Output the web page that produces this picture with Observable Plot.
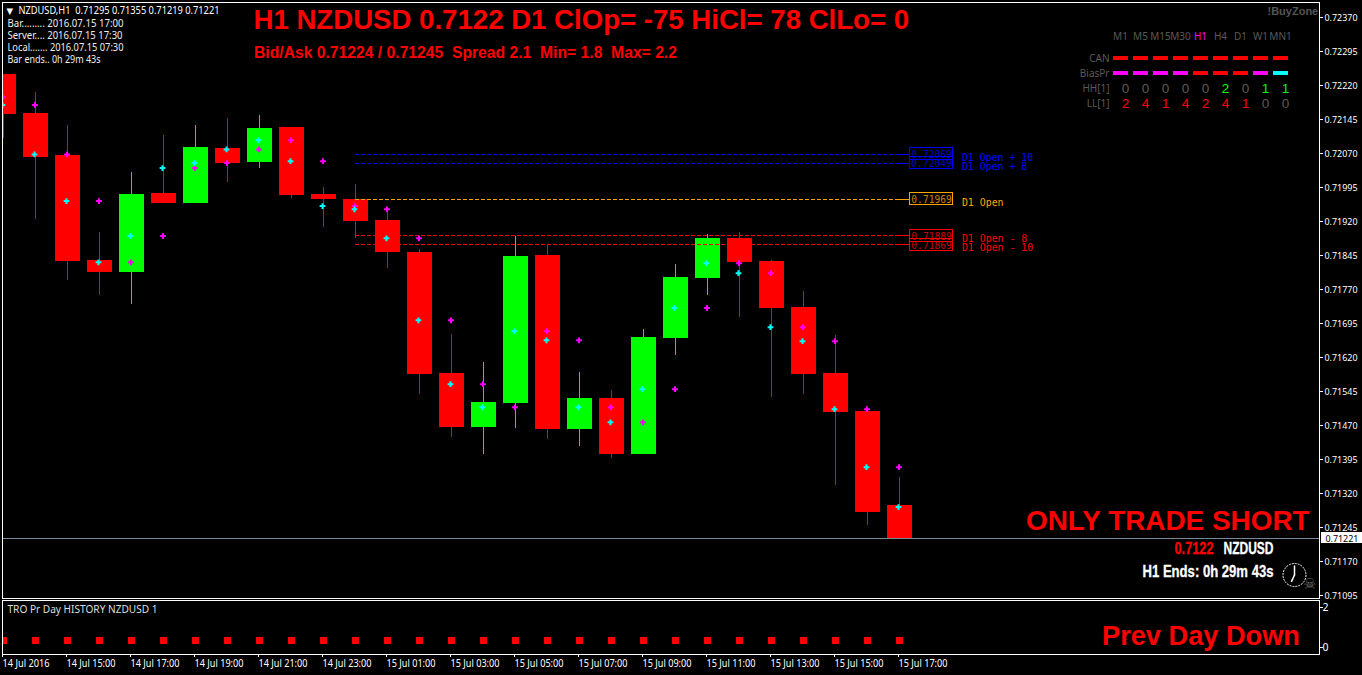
<!doctype html>
<html><head><meta charset="utf-8">
<script src="https://cdn.jsdelivr.net/npm/d3@7"></script>
<script src="https://cdn.jsdelivr.net/npm/@observablehq/plot@0.6"></script>
<style>
html,body{margin:0;padding:0;background:#000;overflow:hidden}
#chart{position:relative;width:1362px;height:675px;background:#000}
#chart svg{position:absolute;left:0;background:transparent;white-space:pre}
</style></head><body><div id="chart"></div>
<script>
// ---- data -------------------------------------------------------------
const opens  = [.72245,.72159,.72066,.71835,.71808,.71982,.71960,.72082,.72051,.72128,.71980,.71969,.71923,.71852,.71585,.71466,.71519,.71846,.71462,.71530,.71408,.71662,.71795,.71883,.71832,.71731,.71585,.71502,.71295];
const highs  = [.72245,.72205,.72132,.71896,.72029,.72110,.72132,.72148,.72154,.72128,.71996,.72002,.71947,.71859,.71671,.71610,.71888,.71870,.71587,.71548,.71682,.71826,.71892,.71896,.71835,.71766,.71669,.71502,.71355];
const lows   = [.72102,.71925,.71790,.71757,.71738,.71960,.71960,.72007,.72038,.71971,.71907,.71883,.71817,.71539,.71444,.71406,.71464,.71440,.71424,.71398,.71408,.71625,.71757,.71709,.71532,.71539,.71338,.71250,.71219];
const closes = [.72157,.72062,.71832,.71808,.71980,.71960,.72084,.72049,.72126,.71978,.71969,.71921,.71852,.71583,.71466,.71521,.71843,.71462,.71530,.71408,.71665,.71797,.71883,.71830,.71729,.71583,.71499,.71279,.71221];
const magentaPts = [.72194,.72177,.72068,.71965,.71830,.71888,.72038,.72049,.72079,.72099,.72053,.71954,.71947,.71883,.71702,.71561,.71510,.71678,.71658,.71510,.71477,.71550,.71729,.71828,.71806,.71687,.71656,.71506,.71378];
const cyanPts    = [.72177,.72068,.71965,.71830,.71888,.72038,.72049,.72079,.72099,.72053,.71954,.71947,.71883,.71702,.71561,.71510,.71678,.71658,.71510,.71477,.71550,.71729,.71828,.71806,.71687,.71656,.71506,.71378,.71290];
const histValue = 0.35;
const priceTicks = [.7237,.72295,.7222,.72145,.7207,.71995,.7192,.71845,.7177,.71695,.7162,.71545,.7147,.71395,.7132,.71245,.7117,.71095];
const timeLabels = ["14 Jul 2016","14 Jul 15:00","14 Jul 17:00","14 Jul 19:00","14 Jul 21:00","14 Jul 23:00","15 Jul 01:00","15 Jul 03:00","15 Jul 05:00","15 Jul 07:00","15 Jul 09:00","15 Jul 11:00","15 Jul 13:00","15 Jul 15:00","15 Jul 17:00"];
const levelPrices = [.72069,.72049,.71969,.71889,.71869];
const levelNames  = ["D1 Open + 10","D1 Open + 8","D1 Open","D1 Open - 8","D1 Open - 10"];
const levelColors = ["#0000ff","#0000ff","#ffa500","#ff0000","#ff0000"];
const lastPrice = .71221;
const timeframes = ["M1","M5","M15","M30","H1","H4","D1","W1","MN1"];
const canColors  = ["#f00","#f00","#f00","#f00","#f00","#f00","#f00","#f00","#f00"];
const biasColors = ["#f0f","#f0f","#f0f","#f0f","#f00","#f00","#f00","#f0f","#0ff"];
const hhValues   = [0,0,0,0,0,2,0,1,1];
const llValues   = [2,4,1,4,2,4,1,0,0];
const rowNames   = ["CAN","BiasPr","HH[1]","LL[1]"];
const numColor = (v, c) => v === 0 ? "#5a5a5a" : c;

// ---- tables -----------------------------------------------------------
const candles = opens.map((o,i)=>({i,open:o,high:highs[i],low:lows[i],close:closes[i],color:closes[i]>o?"#00ff00":"#ff0000"}));
const UI = "'Noto Sans','DejaVu Sans',sans-serif";
const BOLD = "'Liberation Sans',Arial,sans-serif";
const MONO = "'DejaVu Sans Mono',monospace";
const PT = 0.00075/34;           // price per pixel, for the label boxes

const ML = 2, MT = 2;
const note = (text, px, py, o={}) => Plot.text([text], {text:d=>d, frameAnchor:"top-left", dx:px-ML, dy:py-MT, textAnchor:"start", lineAnchor:"middle", fill:"#fff", fontFamily:UI, fontSize:10.5, ...o});

// condense real text to the width it has in the terminal's font
const fit = (svg, match, w) => d3.select(svg).selectAll("text").filter(function(){return match(this.textContent)}).attr("textLength",w).attr("lengthAdjust","spacingAndGlyphs");

// ---- main panel -------------------------------------------------------
const hand = {draw(c,l){c.moveTo(0,0);c.lineTo(0,-l)}};
const main = Plot.plot({
  width:1362, height:602, marginLeft:ML, marginTop:MT, marginRight:43, marginBottom:4,
  style:{background:"transparent", fontFamily:UI, whiteSpace:"pre"},
  x:{domain:[0,1], range:[3,35], axis:null},
  y:{domain:[.7237,.71095], range:[17,595], axis:null},
  marks:[
    Plot.ruleX(candles,{x:"i",y1:"low",y2:"high",stroke:"color",clip:"frame",shapeRendering:"crispEdges"}),
    Plot.rect(candles,{x1:d=>d.i-12/32,x2:d=>d.i+13/32,y1:"open",y2:"close",fill:"color",dy:.4,clip:"frame",shapeRendering:"crispEdges"}),
    // D1 levels
    Plot.ruleY(levelPrices,{y:d=>d,x1:11,x2:28,dy:.3,stroke:(d,i)=>levelColors[i],strokeDasharray:"4,2",shapeRendering:"crispEdges"}),
    Plot.ruleY(levelPrices,{y:d=>d,x1:28,x2:28.34,dy:.3,stroke:(d,i)=>levelColors[i],shapeRendering:"crispEdges"}),
    Plot.rect(levelPrices,{x1:28.34,x2:29.66,y1:d=>d+6*PT,y2:d=>d-6*PT,stroke:(d,i)=>levelColors[i],fill:"none",shapeRendering:"crispEdges"}),
    Plot.text(levelPrices,{x:28.37,y:d=>d,text:d=>d.toFixed(5),fill:(d,i)=>levelColors[i],textAnchor:"start",fontFamily:MONO,fontSize:9.6,dy:1,fillOpacity:.8}),
    Plot.text(levelPrices,{x:29.95,y:d=>d,text:(d,i)=>levelNames[i],fill:(d,i)=>levelColors[i],textAnchor:"start",fontFamily:MONO,fontSize:9.9,dy:3.5}),
    // indicator points
    Plot.dot(candles,{x:"i",y:(d,i)=>magentaPts[i],symbol:"plus",r:2,stroke:"#ff00ff",strokeWidth:2,dx:-.5,clip:"frame"}),
    Plot.dot(candles,{x:"i",y:(d,i)=>cyanPts[i],symbol:"plus",r:2,stroke:"#00ffff",strokeWidth:2,dx:-1,clip:"frame"}),
    // last price
    Plot.ruleY([lastPrice],{stroke:"#778899",shapeRendering:"crispEdges"}),
    // price axis
    Plot.axisY({anchor:"right",ticks:priceTicks,tickFormat:d3.format(".5f"),tickSize:3,tickPadding:2,stroke:"#fff",fill:"#fff",fontFamily:UI,fontSize:9.5,textStroke:"none"}),
    // header texts
    note("▼",6,10.5,{fontSize:8.5,fontFamily:"'DejaVu Sans',sans-serif"}),
    note("NZDUSD,H1  0.71295 0.71355 0.71219 0.71221",18,10.5),
    note("Bar......... 2016.07.15 17:00",7,23.5,{fill:"#eee"}),
    note("Server.... 2016.07.15 17:30",7,35.5,{fill:"#eee"}),
    note("Local....... 2016.07.15 07:30",7,47.5,{fill:"#eee"}),
    note("Bar ends.. 0h 29m 43s",7,59.5,{fill:"#eee"}),
    note("H1 NZDUSD 0.7122 D1 ClOp= -75 HiCl= 78 ClLo= 0",253,19.5,{fill:"#f00",fontFamily:BOLD,fontWeight:700,fontSize:27.6}),
    note("Bid/Ask 0.71224 / 0.71245  Spread 2.1  Min= 1.8  Max= 2.2",253.5,52,{fill:"#f00",fontFamily:BOLD,fontWeight:700,fontSize:15.7}),
    note("!BuyZone",1267,11,{fill:"#555",fontFamily:BOLD,fontWeight:700,fontSize:11}),
    note("ONLY TRADE SHORT",1025.5,521,{fill:"#f00",fontFamily:BOLD,fontWeight:700,fontSize:27.9}),
    note("0.7122",1174,548,{fill:"#f00",stroke:"#f00",strokeWidth:.3,fontFamily:BOLD,fontWeight:700,fontSize:16.5}),
    note("NZDUSD",1223,548,{stroke:"#fff",strokeWidth:.3,fontFamily:BOLD,fontWeight:700,fontSize:16.5}),
    note("H1 Ends: 0h 29m 43s",1142,571,{stroke:"#fff",strokeWidth:.3,fontFamily:BOLD,fontWeight:700,fontSize:16.5}),
    // clock glyph
    Plot.dot([0],{frameAnchor:"top-left",dx:1294-ML,dy:574.5-MT,r:11.5,stroke:"#fff",strokeWidth:1,strokeDasharray:"2,1"}),
    Plot.vector([0],{frameAnchor:"top-left",dx:1294-ML,dy:574.5-MT,anchor:"start",length:9,rotate:0,stroke:"#fff",shape:hand}),
    Plot.vector([0],{frameAnchor:"top-left",dx:1294-ML,dy:574.5-MT,anchor:"start",length:7,rotate:205,stroke:"#fff",shape:hand}),
    note("☠",1302.5,584,{fill:"#666",fontFamily:"'DejaVu Sans',sans-serif",fontSize:15}),
    Plot.frame({stroke:"#fff",shapeRendering:"crispEdges"})
  ]
});
main.style.top="0px";
fit(main,t=>t==="0.7122",39);
fit(main,t=>t==="NZDUSD",50);
fit(main,t=>t.startsWith("H1 Ends"),131);
fit(main,t=>t.startsWith("NZDUSD,H1"),201);
fit(main,t=>t.startsWith("Bar...")||t.startsWith("Local"),116);
fit(main,t=>t.startsWith("Server"),115);
fit(main,t=>t.startsWith("Bar ends"),93);
fit(main,t=>priceTicks.includes(+t),33);

// price tag drawn on top of the axis
const tagOverlay = Plot.plot({
  width:1362, height:602, marginLeft:ML, marginTop:MT, marginRight:43, marginBottom:4,
  style:{background:"transparent"},
  x:{domain:[0,1], range:[3,35], axis:null},
  y:{domain:[.7237,.71095], range:[17,595], axis:null},
  marks:[
    Plot.rect([lastPrice],{x1:41.19,x2:42.47,y1:d=>d+5.5*PT,y2:d=>d-5*PT,fill:"#fff",shapeRendering:"crispEdges"}),
    Plot.text([lastPrice],{x:41.31,y:d=>d,text:d=>d.toFixed(5),fill:"#000",textAnchor:"start",fontFamily:UI,fontSize:9.5,dy:.5})
  ]
});
tagOverlay.style.top="0px";
fit(tagOverlay,t=>t==="0.71221",33);

// ---- history sub-panel -------------------------------------------------
const sub = Plot.plot({
  width:1362, height:76, marginLeft:ML, marginTop:1, marginRight:43, marginBottom:21,
  style:{background:"transparent", fontFamily:UI},
  x:{domain:[0,1], range:[3,35], axis:null},
  y:{domain:[0,2], range:[48,8], axis:null},
  marks:[
    Plot.dot(candles,{x:"i",y:()=>histValue,symbol:"square",r:3.5,fill:"#ff0000",clip:"frame",shapeRendering:"crispEdges"}),
    Plot.axisY({anchor:"right",ticks:[0,2],tickFormat:d3.format("d"),tickSize:3,tickPadding:0,label:null,stroke:"#fff",fill:"#fff",fontFamily:UI,fontSize:10.5}),
    Plot.axisX({anchor:"bottom",ticks:timeLabels.map((d,i)=>i*2),tickFormat:d=>timeLabels[d/2],tickSize:3,tickPadding:2,label:null,textAnchor:"start",stroke:"#fff",fill:"#fff",fontFamily:UI,fontSize:10.5,dx:-1}),
    Plot.text(["TRO Pr Day HISTORY NZDUSD 1"],{text:d=>d,frameAnchor:"top-left",lineAnchor:"middle",dx:5,dy:9,textAnchor:"start",fill:"#ddd",fontFamily:UI,fontSize:10.5}),
    Plot.text(["Prev Day Down"],{text:d=>d,frameAnchor:"top-left",lineAnchor:"middle",dx:1099.5,dy:36,textAnchor:"start",fill:"#f00",fontFamily:BOLD,fontWeight:700,fontSize:27.2}),
    Plot.frame({stroke:"#fff",shapeRendering:"crispEdges"})
  ]
});
sub.style.top="599px";
fit(sub,t=>t==="14 Jul 2016",47);
fit(sub,t=>/^\d+ Jul \d+:\d+$/.test(t),49);
fit(sub,t=>t.startsWith("TRO"),150);

// ---- timeframe dashboard ----------------------------------------------
const rowY = [2,3,4,5];
const cells = timeframes.map((tf,i)=>({i,tf,can:canColors[i],bias:biasColors[i],hh:hhValues[i],ll:llValues[i]}));
const dash = Plot.plot({
  width:300, height:120, margin:0,
  style:{background:"transparent"},
  x:{domain:[0,1], range:[60,80], axis:null},   // column 0 at page x 1120
  y:{domain:[0,5], range:[28,103], axis:null},  // rows 15px apart
  marks:[
    Plot.text(cells,{x:"i",y:()=>0,text:"tf",dy:8.5,fill:d=>d.tf==="H1"?"#ff00ff":"#5a5a5a",fontFamily:UI,fontSize:10}),
    Plot.rect(cells,{x1:d=>d.i-.375,x2:d=>d.i+.375,y1:()=>2-2/15,y2:()=>2+2/15,fill:"can",shapeRendering:"crispEdges"}),
    Plot.rect(cells,{x1:d=>d.i-.375,x2:d=>d.i+.375,y1:()=>3-2/15,y2:()=>3+2/15,fill:"bias",shapeRendering:"crispEdges"}),
    Plot.text(cells,{x:"i",y:()=>4,text:"hh",dx:5,fill:d=>numColor(d.hh,"#00ff00"),fontFamily:BOLD,fontSize:13.5}),
    Plot.text(cells,{x:"i",y:()=>5,text:"ll",dx:5,fill:d=>numColor(d.ll,"#ff0000"),fontFamily:BOLD,fontSize:13.5}),
    Plot.text(rowNames,{x:()=>-.55,y:(d,i)=>rowY[i],text:d=>d,textAnchor:"end",fill:"#5a5a5a",fontFamily:UI,fontSize:10,dy:.5})
  ]
});
dash.style.left="1060px"; dash.style.top="0px";

document.getElementById("chart").append(main,tagOverlay,sub,dash);
</script></body></html>
